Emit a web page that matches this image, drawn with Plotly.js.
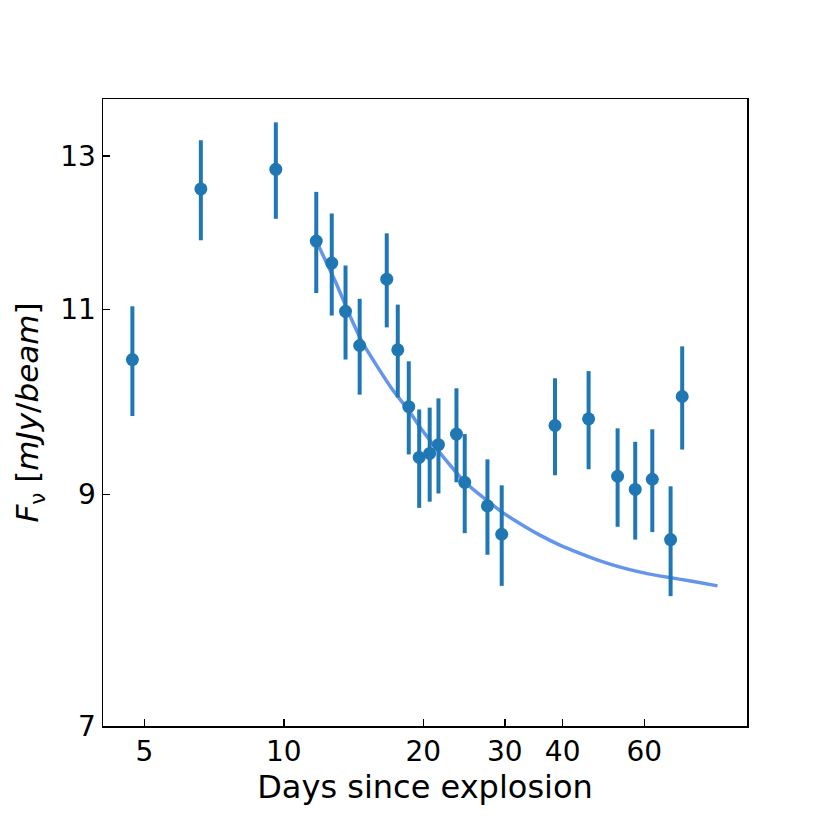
<!DOCTYPE html>
<html>
<head>
<meta charset="utf-8">
<script src="https://cdn.plot.ly/plotly-3.0.1.min.js"></script>
<style>
  body { margin: 0; background: #fff; }
  #chart { width: 830px; height: 830px; }
</style>
</head>
<body>
<div id="chart"></div>
<script>
// days since explosion / flux (mJy/beam) / 1 sigma error
const days = [4.71, 6.62, 9.61, 11.75, 12.69, 13.59, 14.58, 16.68, 17.62, 18.61, 19.60, 20.65,
              21.57, 23.59, 24.58, 27.52, 29.54, 38.50, 45.50, 52.56, 57.37, 62.45, 68.40, 72.46];
const flux = [10.42, 12.54, 12.81, 11.85, 11.57, 10.98, 10.58, 11.37, 10.53, 9.90, 9.37, 9.41,
              9.50, 9.61, 9.12, 8.89, 8.62, 9.70, 9.77, 9.18, 9.05, 9.15, 8.57, 10.01];
const fluxErr = [0.62, 0.68, 0.67, 0.65, 0.64, 0.56, 0.55, 0.58, 0.53, 0.50, 0.50, 0.48,
                 0.49, 0.49, 0.49, 0.46, 0.47, 0.51, 0.52, 0.49, 0.48, 0.51, 0.51, 0.56];

// fitted decline curve
const fitDays = [11.75, 12.97, 13.86, 14.80, 15.83, 17.19, 18.67, 19.63, 21.32, 24.75, 29.69, 32.25,
                 35.63, 39.35, 43.45, 47.99, 53.01, 58.55, 64.66, 71.41, 78.87, 86.37];
const fitFlux = [11.85, 11.32, 10.94, 10.61, 10.36, 10.08, 9.85, 9.69, 9.465, 9.11, 8.825, 8.724,
                 8.614, 8.521, 8.445, 8.377, 8.320, 8.275, 8.239, 8.210, 8.180, 8.150];

const xTicks = [5, 10, 20, 30, 40, 60];
const yTicks = [7, 9, 11, 13];

const fit = {
    x: fitDays,
    y: fitFlux,
    type: 'scatter',
    mode: 'lines',
    line: {color: '#6495ED', width: 3.5, shape: 'spline', smoothing: 0.5},
    hoverinfo: 'skip'
};

const obs = {
    x: days,
    y: flux,
    type: 'scatter',
    mode: 'markers',
    marker: {color: '#1f77b4', size: 13},
    error_y: {type: 'data', array: fluxErr, visible: true, color: '#1f77b4', thickness: 4, width: 0}
};

const axisCommon = {
    type: 'log',
    showgrid: false,
    zeroline: false,
    showline: true,
    mirror: true,
    linecolor: '#000',
    linewidth: 1.5,
    ticks: 'inside',
    ticklen: 7,
    tickwidth: 1.5,
    tickcolor: '#000',
    tickfont: {family: 'DejaVu Sans', size: 28, color: '#000'}
};

const layout = {
    width: 830,
    height: 830,
    margin: {l: 103, r: 83, t: 99, b: 104},
    paper_bgcolor: '#fff',
    plot_bgcolor: '#fff',
    showlegend: false,
    font: {family: 'DejaVu Sans', color: '#000'},
    xaxis: Object.assign({}, axisCommon, {
        range: [Math.log10(4.07), 2],
        tickvals: xTicks,
        ticktext: xTicks.map(String),
        title: {text: 'Days since explosion', font: {family: 'DejaVu Sans', size: 32, color: '#000'}, standoff: 5}
    }),
    yaxis: Object.assign({}, axisCommon, {
        range: [Math.log10(7), Math.log10(13.826)],
        tickvals: yTicks,
        ticktext: yTicks.map(String),
        title: {text: '<i>F</i><sub>ν</sub> [<i>mJy</i>/<i>beam</i>]', font: {family: 'DejaVu Sans', size: 31, color: '#000'}, standoff: 12}
    })
};

Plotly.newPlot('chart', [fit, obs], layout, {displayModeBar: false, staticPlot: true});
</script>
</body>
</html>
